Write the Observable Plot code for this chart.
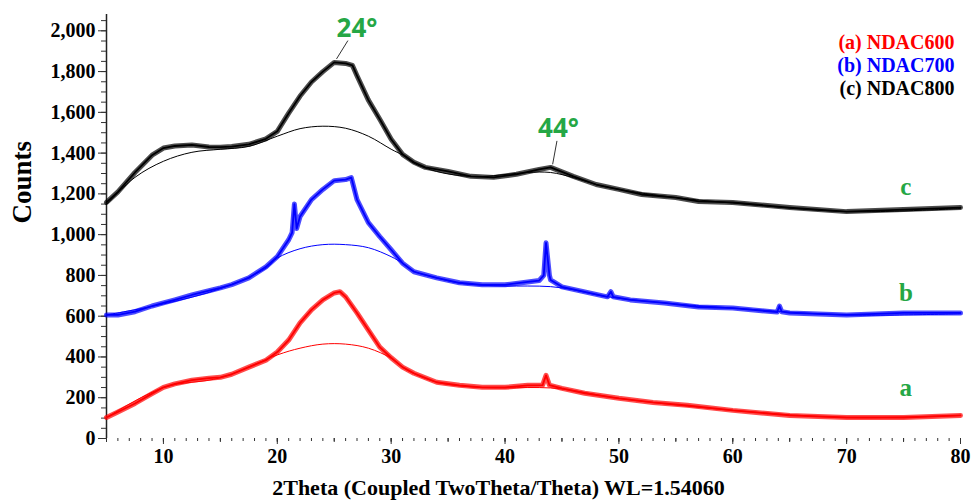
<!DOCTYPE html>
<html>
<head>
<meta charset="utf-8">
<script src="https://cdn.jsdelivr.net/npm/d3@7"></script>
<script src="https://cdn.jsdelivr.net/npm/@observablehq/plot@0.6"></script>
<style>
  body { margin: 0; background: #ffffff; }
</style>
</head>
<body>
<div id="chart"></div>
<script>
// ---- Data ----
const seriesNames = ["(a) NDAC600", "(b) NDAC700", "(c) NDAC800"];
const seriesLetters = ["a", "b", "c"];
const seriesColors = ["#ff0000", "#0000ff", "#000000"];

// (c) NDAC800 measured pattern
const xC = [5, 6, 7.5, 9, 10, 11, 12.5, 14, 15, 16, 17.5, 19, 20, 21, 22, 23, 24, 25, 26, 26.6, 27, 28, 29, 30, 31, 32, 33, 35, 37, 39, 41, 43, 44, 46, 48, 50, 52, 55, 57, 60, 65, 70, 75, 80];
const yC = [1158, 1210, 1305, 1390, 1425, 1435, 1440, 1430, 1429, 1432, 1443, 1470, 1507, 1596, 1680, 1749, 1800, 1845, 1840, 1830, 1780, 1660, 1566, 1468, 1394, 1355, 1330, 1310, 1286, 1281, 1296, 1320, 1330, 1286, 1246, 1222, 1197, 1182, 1163, 1158, 1133, 1113, 1123, 1133];
// (c) fitted background
const bxC = [5, 7.5, 10, 12.5, 15, 17.5, 20, 22, 24, 26, 28, 30, 31, 32, 34, 36, 38, 40, 42, 44, 46, 48, 50, 55, 60, 70, 80];
const byC = [1148, 1281, 1360, 1404, 1419, 1433, 1483, 1520, 1532, 1522, 1483, 1419, 1390, 1350, 1310, 1290, 1285, 1295, 1305, 1305, 1280, 1246, 1222, 1182, 1155, 1113, 1128];

// (b) NDAC700 measured pattern
const xB = [5, 6, 7.5, 9, 10, 11, 12.5, 14, 15, 16, 17.5, 19, 20, 21, 21.3, 21.5, 21.7, 22, 23, 24, 25, 26, 26.5, 27, 28, 29, 30, 31, 32, 34, 36, 38, 40, 42, 43, 43.4, 43.6, 43.9, 44, 45, 47, 49, 49.3, 49.5, 51, 54, 57, 60, 63.9, 64.1, 64.3, 65, 70, 75, 80];
const yB = [606, 606, 622, 650, 665, 680, 704, 725, 739, 755, 788, 842, 892, 975, 1010, 1150, 1030, 1089, 1172, 1222, 1265, 1270, 1280, 1172, 1059, 990, 926, 860, 818, 788, 764, 754, 754, 768, 775, 800, 960, 800, 778, 744, 719, 695, 720, 695, 680, 665, 645, 640, 620, 650, 622, 616, 606, 616, 616];
// (b) fitted background
const bxB = [5, 10, 15, 19, 20, 22, 24, 26, 28, 30, 31, 32, 34, 36, 38, 40, 42, 44, 46, 48, 50, 55, 60, 70, 80];
const byB = [606, 660, 735, 835, 885, 931, 951, 951, 936, 892, 860, 820, 788, 762, 752, 748, 748, 745, 730, 705, 688, 660, 640, 606, 612];

// (a) NDAC600 measured pattern
const xA = [5, 6, 7.5, 9, 10, 11, 12.5, 14, 15, 16, 17.5, 19, 20, 21, 22, 23, 24, 25, 25.5, 26, 27, 28, 29, 30, 31, 32, 34, 36, 38, 40, 42, 43.3, 43.6, 43.9, 45, 47, 50, 53, 56, 60, 65, 70, 75, 80];
const yA = [103, 130, 172, 220, 251, 268, 286, 296, 300, 315, 350, 384, 424, 483, 567, 631, 680, 714, 720, 695, 616, 532, 448, 396, 350, 320, 276, 261, 251, 251, 261, 262, 310, 262, 246, 222, 197, 177, 163, 138, 113, 103, 103, 113];
// (a) fitted background
const bxA = [5, 10, 15, 20, 22, 24, 26, 28, 30, 31, 32, 34, 36, 38, 40, 42, 44, 46, 50, 60, 70, 80];
const byA = [103, 250, 298, 410, 443, 463, 463, 443, 394, 350, 318, 276, 258, 250, 248, 250, 248, 235, 197, 138, 103, 113];

// Axis ticks
const xMajorTicks = [10, 20, 30, 40, 50, 60, 70, 80];
const xMidTicks = [5, 10, 15, 20, 25, 30, 35, 40, 45, 50, 55, 60, 65, 70, 75, 80];
const xMinorTicks = d3.range(5, 81, 1);
const yMajorTicks = [0, 200, 400, 600, 800, 1000, 1200, 1400, 1600, 1800, 2000];
const yMinorTicks = d3.range(0, 2051, 50);

// Annotations
const peakLabels = ["24°", "44°"];
const xTitle = "2Theta (Coupled TwoTheta/Theta) WL=1.54060";
const yTitle = "Counts";

// ---- Build tables ----
const toRows = (xs, ys) => xs.map((x, i) => ({x, y: ys[i]}));
const measured = [toRows(xA, yA), toRows(xB, yB), toRows(xC, yC)];
const background = [toRows(bxA, byA), toRows(bxB, byB), toRows(bxC, byC)];

const green = "#25a745";
const serif = "'Liberation Serif', 'Times New Roman', serif";

const marks = [];
// y axis line
marks.push(Plot.ruleX([5], {stroke: "#222", strokeWidth: 1.5}));
// y axis ticks
marks.push(Plot.axisY({ticks: yMinorTicks, tickSize: 5, tickFormat: () => "", label: null, stroke: "#333"}));
marks.push(Plot.axisY({ticks: yMajorTicks, tickSize: 8, tickPadding: 3, tickFormat: d3.format(","), label: null, stroke: "#333", fontSize: 20}));
// x axis ticks
marks.push(Plot.axisX({ticks: xMinorTicks, tickSize: 3, tickFormat: () => "", label: null, stroke: "#333"}));
marks.push(Plot.axisX({ticks: xMidTicks, tickSize: 4, tickFormat: () => "", label: null, stroke: "#333"}));
marks.push(Plot.axisX({ticks: xMajorTicks, tickSize: 6, tickPadding: 4, label: null, stroke: "#333", fontSize: 20}));

// curves
for (let i = 0; i < 3; i++) {
  marks.push(Plot.line(measured[i], {x: "x", y: "y", stroke: seriesColors[i], strokeWidth: 5, strokeOpacity: 0.7, curve: "linear"}));
  marks.push(Plot.line(measured[i], {x: "x", y: "y", stroke: seriesColors[i], strokeWidth: 1.8, curve: "linear"}));
  marks.push(Plot.line(background[i], {x: "x", y: "y", stroke: seriesColors[i], strokeWidth: 1, curve: "catmull-rom"}));
}

// peak leader lines & labels
marks.push(Plot.link([{x1: 26.2, y1: 1952, x2: 25.2, y2: 1862}], {x1: "x1", y1: "y1", x2: "x2", y2: "y2", stroke: "#333", strokeWidth: 1}));
marks.push(Plot.link([{x1: 44.56, y1: 1460, x2: 44.18, y2: 1345}], {x1: "x1", y1: "y1", x2: "x2", y2: "y2", stroke: "#333", strokeWidth: 1}));
marks.push(Plot.text([peakLabels[0]], {x: () => 27.0, y: () => 2012, text: d => d, fill: green, fontSize: 26, fontFamily: "'Open Sans', sans-serif", fontWeight: "bold"}));
marks.push(Plot.text([peakLabels[1]], {x: () => 44.7, y: () => 1521, text: d => d, fill: green, fontSize: 26, fontFamily: "'Open Sans', sans-serif", fontWeight: "bold"}));

// series letters
const letterY = [246, 714, 1232];
for (let i = 0; i < 3; i++) {
  marks.push(Plot.text([seriesLetters[i]], {x: () => 75.2, y: () => letterY[i], text: d => d, fill: green, fontSize: 25, fontFamily: serif, fontWeight: "bold"}));
}

// legend
for (let i = 0; i < 3; i++) {
  marks.push(Plot.text([seriesNames[i]], {frameAnchor: "top-right", text: d => d, textAnchor: "end", dx: -6, dy: 20 + i * 23, fill: seriesColors[i], fontSize: 20, fontFamily: serif, fontWeight: "bold"}));
}

// axis titles
marks.push(Plot.text([yTitle], {frameAnchor: "left", text: d => d, rotate: -90, dx: -84, dy: -3, fontSize: 27, fontFamily: serif, fontWeight: "bold", fill: "#000"}));
marks.push(Plot.text([xTitle], {frameAnchor: "bottom", text: d => d, dx: -35, dy: 56, fontSize: 22, fontFamily: serif, fontWeight: "bold", fill: "#000"}));

const plot = Plot.plot({
  width: 972,
  height: 504,
  marginTop: 14,
  marginBottom: 66,
  marginLeft: 106,
  marginRight: 12,
  x: {domain: [5, 80]},
  y: {domain: [0, 2080]},
  style: {fontFamily: serif, fontWeight: "bold", fontSize: "20px", background: "#ffffff", color: "#000"},
  marks
});
document.getElementById("chart").appendChild(plot);
</script>
</body>
</html>
